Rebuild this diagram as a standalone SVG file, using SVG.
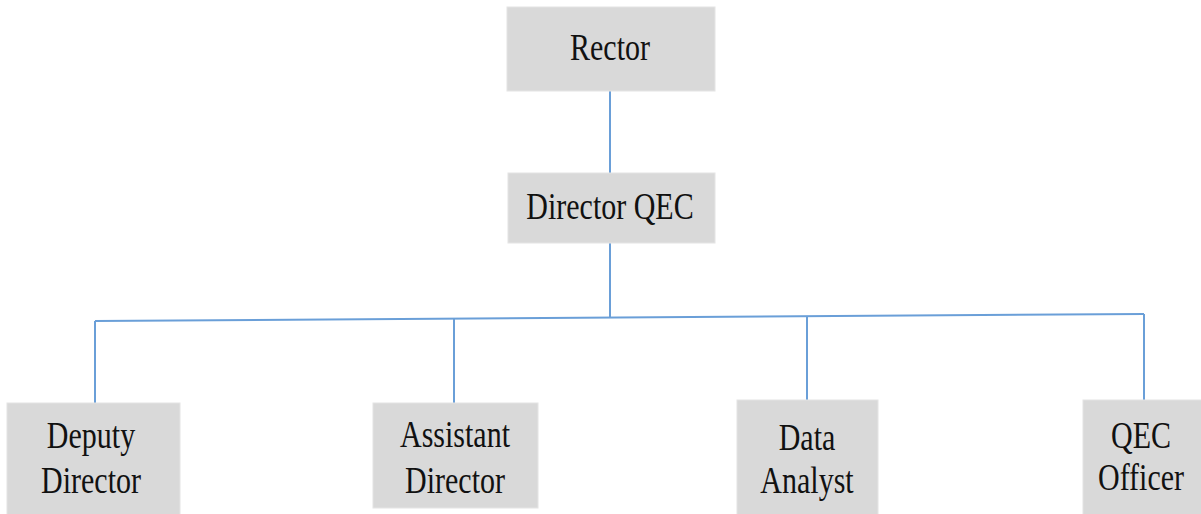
<svg xmlns="http://www.w3.org/2000/svg" width="1201" height="514" viewBox="0 0 1201 514">
<style>
.box{fill:#d9d9d9;stroke:#e4e4e4;stroke-width:1}
.lbl{font-family:"Liberation Serif","Times New Roman",serif;font-size:30px;fill:#111;text-anchor:middle}
.ln{stroke:#6a9fd8;stroke-width:2;fill:none}
</style>
<rect width="1201" height="514" fill="#fff"/>
<g id="connectors">
<line class="ln" x1="610" y1="91" x2="610" y2="173"/>
<line class="ln" x1="610" y1="243" x2="610" y2="318"/>
<line class="ln" x1="95" y1="321" x2="1144" y2="314"/>
<line class="ln" x1="95" y1="321" x2="95" y2="403"/>
<line class="ln" x1="454" y1="319" x2="454" y2="403"/>
<line class="ln" x1="807" y1="317" x2="807" y2="400"/>
<line class="ln" x1="1144" y1="314" x2="1144" y2="400"/>
</g>
<g id="rector">
<rect class="box" x="507" y="7" width="208" height="84"/>
<text class="lbl" transform="translate(610,60) scale(1,1.25)">Rector</text>
</g>
<g id="director-qec">
<rect class="box" x="508" y="173" width="207" height="70"/>
<text class="lbl" transform="translate(610,219) scale(1,1.25)">Director QEC</text>
</g>
<g id="deputy-director">
<rect class="box" x="7" y="403" width="173" height="115"/>
<text class="lbl" transform="translate(91,448) scale(1,1.25)">Deputy</text>
<text class="lbl" transform="translate(91,493) scale(1,1.25)">Director</text>
</g>
<g id="assistant-director">
<rect class="box" x="373" y="403" width="165" height="105"/>
<text class="lbl" transform="translate(455,447) scale(1,1.25)">Assistant</text>
<text class="lbl" transform="translate(455,493) scale(1,1.25)">Director</text>
</g>
<g id="data-analyst">
<rect class="box" x="737" y="400" width="141" height="118"/>
<text class="lbl" transform="translate(807,450) scale(1,1.25)">Data</text>
<text class="lbl" transform="translate(807,493) scale(1,1.25)">Analyst</text>
</g>
<g id="qec-officer">
<rect class="box" x="1083" y="400" width="122" height="118"/>
<text class="lbl" transform="translate(1141,448) scale(1,1.25)">QEC</text>
<text class="lbl" transform="translate(1141,490) scale(1,1.25)">Officer</text>
</g>
</svg>
